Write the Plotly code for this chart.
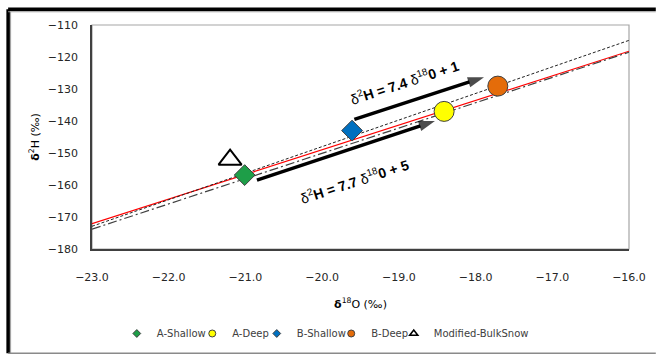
import plotly.graph_objects as go

# ---- data ----
series_names = ["A-Shallow", "A-Deep", "B-Shallow", "B-Deep", "Modified-BulkSnow"]
d18O = [-21.01, -18.41, -19.61, -17.71, -21.2]
d2H = [-156.9, -137.0, -143.0, -129.1, -152.1]
symbols = ["diamond", "circle", "diamond", "circle", "triangle-up"]
fills = ["#1E9E48", "#FFFF00", "#0070C0", "#E46C0A", "rgba(255,255,255,0)"]
sizes = [16, 20, 16, 20, 20]
legend_sizes = [6, 7, 6, 7, 7]

line_x = [-23.0, -16.0]
lmwl_y = [-172.1, -118.2]        # red solid: 7.7 d18O + 5
dashdot_y = [-173.8, -118.5]     # black long dash-dot
dotted_y = [-172.9, -114.8]      # black dotted

x_ticks = [-23.0, -22.0, -21.0, -20.0, -19.0, -18.0, -17.0, -16.0]
y_ticks = [-180, -170, -160, -150, -140, -130, -120, -110]

eq_upper = "δ<sup>2</sup><b>H = 7.4 </b>δ<sup>18</sup><b>0 + 1</b>"
eq_lower = "δ<sup>2</sup><b>H = 7.7 </b>δ<sup>18</sup><b>0 + 5</b>"
arrow_upper_x = [-19.58, -17.89]
arrow_upper_y = [-139.5, -126.3]
arrow_lower_x = [-20.85, -18.53]
arrow_lower_y = [-158.5, -140.0]
label_upper = (-18.93, -127.8)
label_lower = (-19.58, -158.7)

W, H = 658, 360
ml, mr, mt, mb = 92, 25, 25, 107
pw, ph = W - ml - mr, H - mt - mb


def px_x(p):
    return (p - ml) / pw


def px_y(p):
    return (H - mb - p) / ph


fig = go.Figure()

fig.add_trace(go.Scatter(x=line_x, y=lmwl_y, mode="lines", showlegend=False,
                         line=dict(color="#FF0000", width=1.2), hoverinfo="skip"))
fig.add_trace(go.Scatter(x=line_x, y=dashdot_y, mode="lines", showlegend=False,
                         line=dict(color="#404040", width=1.2, dash="9px,3px,2px,3px"), hoverinfo="skip"))
fig.add_trace(go.Scatter(x=line_x, y=dotted_y, mode="lines", showlegend=False,
                         line=dict(color="#222222", width=1.0, dash="3px,2px"), hoverinfo="skip"))

# arrows
for ax_, ay_ in ((arrow_upper_x, arrow_upper_y), (arrow_lower_x, arrow_lower_y)):
    fig.add_trace(go.Scatter(x=ax_, y=ay_, mode="lines+markers", showlegend=False, hoverinfo="skip",
                             line=dict(color="#000000", width=3.5),
                             marker=dict(symbol=["circle", "arrow"], size=[0, 17], angleref="previous",
                                         color="#000000", line=dict(width=0))))

legend_text_px = [157, 233, 298, 373, 436]

for i, name in enumerate(series_names):
    tri = symbols[i] == "triangle-up"
    outline = "#000000" if tri else "#404040"
    fig.add_trace(go.Scatter(
        x=[d18O[i]], y=[d2H[i]], mode="markers", name=name, legendgroup=name, showlegend=False,
        marker=dict(symbol=symbols[i], size=sizes[i], color=fills[i],
                    line=dict(color=outline, width=2 if tri else 1))))
    lg = "legend" if i == 0 else "legend%d" % (i + 1)
    fig.add_trace(go.Scatter(
        x=[None], y=[None], mode="markers", name=name, legendgroup=name, showlegend=True, legend=lg,
        marker=dict(symbol=symbols[i], size=legend_sizes[i], color=fills[i],
                    line=dict(color=outline, width=1.6 if tri else 1))))

for (lx, ly), txt in ((label_upper, eq_upper), (label_lower, eq_lower)):
    fig.add_annotation(x=lx, y=ly, xref="x", yref="y", text=txt, showarrow=False,
                       textangle=-18, font=dict(family="Liberation Sans", size=14, color="#000000"))

# outer frame
fig.add_shape(type="line", xref="paper", yref="paper", x0=px_x(7.5), x1=px_x(660),
              y0=px_y(9), y1=px_y(9), line=dict(color="#000000", width=3.5))
fig.add_shape(type="line", xref="paper", yref="paper", x0=px_x(7.5), x1=px_x(7.5),
              y0=px_y(9), y1=px_y(359), line=dict(color="#000000", width=3.5))
fig.add_shape(type="line", xref="paper", yref="paper", x0=px_x(7.5), x1=px_x(660),
              y0=px_y(11.5), y1=px_y(11.5), line=dict(color="#9a9a9a", width=1))
fig.add_shape(type="line", xref="paper", yref="paper", x0=px_x(10), x1=px_x(10),
              y0=px_y(11.5), y1=px_y(359), line=dict(color="#9a9a9a", width=1))
fig.add_shape(type="line", xref="paper", yref="paper", x0=px_x(7.5), x1=px_x(660),
              y0=px_y(359), y1=px_y(359), line=dict(color="#8a8a8a", width=1.5))
# plot area box (top/right light grey)
fig.add_shape(type="rect", xref="paper", yref="paper", x0=0, x1=1, y0=0, y1=1,
              line=dict(color="#a6a6a6", width=1.2), layer="below")

tick_font = dict(family="DejaVu Sans", size=11, color="#262626")
legend_font = dict(family="DejaVu Sans", size=10, color="#404040")

layout_legends = {}
for i in range(len(series_names)):
    key = "legend" if i == 0 else "legend%d" % (i + 1)
    layout_legends[key] = dict(orientation="h", x=px_x(legend_text_px[i] - 40), xanchor="left",
                               y=px_y(339), yanchor="middle", font=legend_font,
                               itemwidth=30, bgcolor="rgba(0,0,0,0)", borderwidth=0)

fig.update_layout(
    width=W, height=H,
    margin=dict(l=ml, r=mr, t=mt, b=mb),
    paper_bgcolor="#FFFFFF", plot_bgcolor="#FFFFFF",
    font=dict(family="DejaVu Sans", size=11, color="#262626"),
    xaxis=dict(range=[-23, -16], tickvals=x_ticks, tickformat=".1f",
               showgrid=False, zeroline=False, showline=True, linecolor="#404040", linewidth=1.5,
               ticks="", ticklabelstandoff=17, tickfont=tick_font,
               title=dict(text="<b>δ</b><sup>18</sup>O (‰)", standoff=17,
                          font=dict(family="DejaVu Sans", size=11, color="#000000"))),
    yaxis=dict(range=[-180, -110], tickvals=y_ticks,
               showgrid=False, zeroline=False, showline=True, linecolor="#404040", linewidth=1.5,
               ticks="", ticklabelstandoff=10, tickfont=tick_font,
               title=dict(text="<b>δ</b><sup>2</sup>H (‰)", standoff=6,
                          font=dict(family="DejaVu Sans", size=11, color="#000000"))),
    showlegend=True,
    **layout_legends,
)

fig.write_html("out.html", config={"displayModeBar": False},
               post_script="document.body.style.margin='0';")
